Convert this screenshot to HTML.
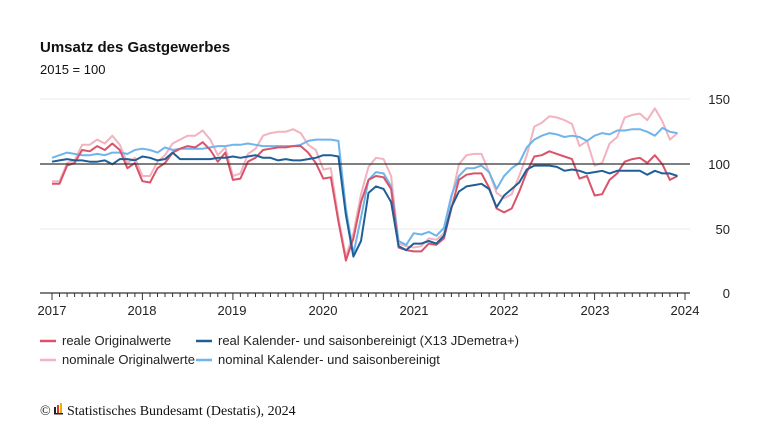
<!DOCTYPE html>
<html><head><meta charset="utf-8"><style>
body{margin:0;background:#fff;width:768px;height:432px;overflow:hidden;font-family:"Liberation Sans",sans-serif}
</style></head><body>
<svg width="768" height="432" xmlns="http://www.w3.org/2000/svg" font-family="Liberation Sans, sans-serif">
<text x="40" y="52" font-size="15" font-weight="bold" fill="#111">Umsatz des Gastgewerbes</text>
<text x="40" y="74" font-size="13" fill="#111">2015 = 100</text>
<g stroke="#eee" stroke-width="1.2">
<line x1="40" x2="690" y1="99" y2="99"/><line x1="40" x2="690" y1="229" y2="229"/>
</g>
<g font-size="13" fill="#222" text-anchor="end">
<text x="730" y="104">150</text><text x="730" y="169">100</text><text x="730" y="234">50</text><text x="730" y="298">0</text>
</g>
<g id="series" fill="none" stroke-width="2" stroke-linejoin="round"></g>
<line x1="40" x2="690" y1="164" y2="164" stroke="#333" stroke-width="1.2"/>
<line x1="40" x2="690" y1="293" y2="293" stroke="#333" stroke-width="1.2"/>
<g id="ticks" stroke="#333" stroke-width="1"></g>
<g font-size="13" fill="#222" text-anchor="middle">
<text x="52" y="315">2017</text><text x="142" y="315">2018</text><text x="232" y="315">2019</text><text x="323" y="315">2020</text><text x="414" y="315">2021</text><text x="504" y="315">2022</text><text x="595" y="315">2023</text><text x="685" y="315">2024</text>
</g>
<g font-size="13" fill="#222">
<line x1="40" x2="56" y1="341" y2="341" stroke="#d9536a" stroke-width="2.5"/><text x="62" y="345">reale Originalwerte</text>
<line x1="196" x2="212" y1="341" y2="341" stroke="#1f5f96" stroke-width="2.5"/><text x="218" y="345">real Kalender- und saisonbereinigt (X13 JDemetra+)</text>
<line x1="40" x2="56" y1="360" y2="360" stroke="#f2b3bf" stroke-width="2.5"/><text x="62" y="364">nominale Originalwerte</text>
<line x1="196" x2="212" y1="360" y2="360" stroke="#6fb4ea" stroke-width="2.5"/><text x="218" y="364">nominal Kalender- und saisonbereinigt</text>
</g>
<text x="40" y="415" font-family="Liberation Serif, serif" font-size="14" fill="#111">©</text>
<rect x="54" y="407" width="2" height="7" fill="#222"/><rect x="57" y="405" width="2" height="9" fill="#d33"/><rect x="60" y="403" width="2" height="11" fill="#e8b400"/>
<rect x="54" y="413" width="9" height="1.5" fill="#222"/>
<text x="67" y="415" font-family="Liberation Serif, serif" font-size="14" fill="#111">Statistisches Bundesamt (Destatis), 2024</text>
</svg>
<script>
const S=[
["#f2b3bf",[86,86,100,102,114,114,118,115,121,114,100,104,90,90,101,106,115,118,121,121,125,118,106,112,90,92,107,111,121,123,124,124,126,123,114,110,95,96,58,28,46,76,97,104,103,90,38,36,35,36,42,41,46,73,99,106,107,107,93,77,73,76,90,106,128,131,136,135,133,130,113,117,98,100,115,120,135,137,138,133,142,132,118,123]],
["#6fb4ea",[104,106,108,107,106,106,107,106,108,108,107,110,111,110,108,112,110,111,111,111,111,112,113,113,114,114,115,114,113,113,113,113,113,114,117,118,118,118,117,65,30,58,87,93,92,82,40,37,46,45,47,44,50,75,90,96,96,98,93,80,90,96,100,112,118,121,123,122,120,121,120,117,121,123,122,125,125,126,126,124,121,127,124,123]],
["#d9536a",[84,84,98,100,110,109,113,110,115,110,96,100,86,85,96,100,108,111,113,112,116,110,101,108,87,88,101,104,110,111,112,112,113,113,108,100,88,89,55,25,42,70,87,90,89,80,35,33,32,32,38,37,42,65,87,91,92,92,81,65,62,65,78,93,105,106,109,107,105,103,88,90,75,76,87,92,101,103,104,100,106,99,87,90]],
["#1f5f96",[101,102,103,102,102,101,101,102,99,103,103,102,105,104,102,103,108,103,103,103,103,103,104,104,105,104,105,106,104,104,102,103,102,102,103,104,106,106,105,60,28,40,77,82,80,70,36,33,38,38,40,38,44,66,78,82,83,84,80,66,75,80,85,95,98,98,98,97,94,95,94,92,93,94,92,94,94,94,94,91,94,92,92,90]]];
const g=document.getElementById('series');
for(const [c,d] of S){const p=d.map((v,i)=>(52+i*633/84).toFixed(1)+','+(293-1.3*v).toFixed(1)).join(' ');
const e=document.createElementNS('http://www.w3.org/2000/svg','polyline');e.setAttribute('points',p);e.setAttribute('stroke',c);g.appendChild(e);}
const t=document.getElementById('ticks');let h='';
for(let i=0;i<=84;i++){const x=(52+i*633/84).toFixed(1);h+=`<line x1="${x}" x2="${x}" y1="293" y2="${i%12==0?300:297}"/>`;}
t.innerHTML=h;
</script>
</body></html>
